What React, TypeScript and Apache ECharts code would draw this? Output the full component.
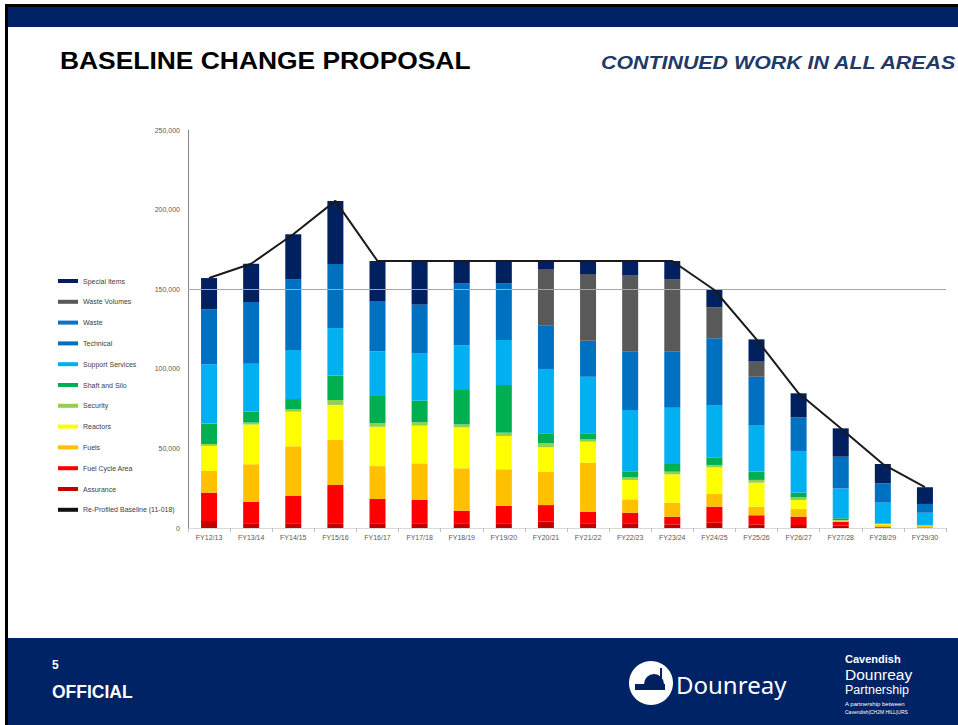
import React, { useEffect, useRef } from "react";
import * as echarts from "echarts";

const categories = ["FY12/13","FY13/14","FY14/15","FY15/16","FY16/17","FY17/18","FY18/19","FY19/20","FY20/21","FY21/22","FY22/23","FY23/24","FY24/25","FY25/26","FY26/27","FY27/28","FY28/29","FY29/30"];

const assurance = [4400,3000,3000,3000,3000,3000,3000,3000,4000,3000,3000,2300,3300,2300,1900,1500,300,200];
const fuelCycleArea = [17800,13500,17100,24000,15200,14600,7900,11000,10400,7200,6600,4800,10100,5700,5200,2500,300,200];
const fuels = [13600,23500,31200,28300,20700,23000,26600,22900,21000,30800,8400,8800,8000,5400,4800,300,1200,800];
const reactors = [15800,25000,21800,22000,24700,23700,25700,20900,15300,13200,12200,17800,16700,15100,5700,300,600,300];
const security = [1200,1200,1600,3100,2200,2100,1900,2100,2500,1500,1600,1700,1500,1700,1700,400,300,200];
const shaftAndSilo = [12800,6900,6300,15300,17100,13600,21600,29900,6300,3800,3600,4800,4800,5200,2900,1100,300,200];
const supportServices = [37200,30100,30800,29900,28100,29900,28200,28300,40400,35500,38700,35400,32900,28900,26200,18800,12900,7700];
const technical = [34600,38800,44400,40200,31600,30400,38800,35600,27200,22600,36600,35100,41900,30700,21100,19900,12200,5500];
const waste = [0,0,0,0,0,0,0,0,0,0,0,0,0,0,0,0,0,0];
const wasteVolumes = [0,0,0,0,0,0,0,0,35600,41900,47800,45500,19400,9500,0,0,0,0];
const specialItems = [19600,24000,28300,39600,25100,27600,14000,14000,5000,8200,9200,11500,11300,14000,15100,17800,12100,10500];
const reProfiledBaseline = [157000,166000,184500,205500,167700,167700,167700,167700,167700,167700,167700,167700,149500,118500,84600,62600,40200,25600];

const yTicks = [0, 50000, 100000, 150000, 200000, 250000];

const NAVY = "#002060";

export default function App() {
  const ref = useRef<HTMLDivElement>(null);
  useEffect(() => {
    document.body.style.margin = "0";
    const chart = echarts.init(ref.current!, null, { renderer: "svg" });
    const stack = [
      { name: "Assurance", data: assurance, color: "#C00000" },
      { name: "Fuel Cycle Area", data: fuelCycleArea, color: "#FF0000" },
      { name: "Fuels", data: fuels, color: "#FFC000" },
      { name: "Reactors", data: reactors, color: "#FFFF00" },
      { name: "Security", data: security, color: "#92D050" },
      { name: "Shaft and Silo", data: shaftAndSilo, color: "#00B050" },
      { name: "Support Services", data: supportServices, color: "#00B0F0" },
      { name: "Technical", data: technical, color: "#0070C0" },
      { name: "Waste", data: waste, color: "#0B72C4" },
      { name: "Waste Volumes", data: wasteVolumes, color: "#595959" },
      { name: "Special Items", data: specialItems, color: "#002060" },
    ];
    const legendOrder = [
      "Special Items","Waste Volumes","Waste","Technical","Support Services","Shaft and Silo","Security","Reactors","Fuels","Fuel Cycle Area","Assurance","Re-Profiled Baseline (11-018)",
    ];
    const series: any[] = stack.map((s) => ({
      name: s.name,
      type: "bar",
      stack: "total",
      barWidth: 16,
      data: s.data,
      itemStyle: { color: s.color },
    }));
    series.push({
      name: "Re-Profiled Baseline (11-018)",
      type: "line",
      data: reProfiledBaseline,
      symbol: "none",
      color: "#111111",
      lineStyle: { color: "#1a1a1a", width: 2 },
      z: 5,
      markLine: {
        silent: true,
        symbol: "none",
        label: { show: false },
        lineStyle: { color: "#a6a6a6", width: 1, type: "solid" },
        data: [{ yAxis: yTicks[3] }],
      },
    });

    const sans = "'Liberation Sans'";
    chart.setOption({
      animation: false,
      backgroundColor: "#ffffff",
      grid: { left: 188, right: 12, top: 130, bottom: 197 },
      legend: {
        orient: "vertical",
        left: 53,
        top: 271,
        icon: "rect",
        itemWidth: 20,
        itemHeight: 4,
        itemGap: 10.8,
        data: legendOrder,
        textStyle: { fontSize: 7, color: "#404040", lineHeight: 10, fontFamily: "Liberation Sans" },
      },
      xAxis: {
        type: "category",
        data: categories,
        axisLine: { show: true, lineStyle: { color: "#d9d9d9" } },
        axisTick: { show: true, length: 4, lineStyle: { color: "#bfbfbf" } },
        axisLabel: { fontSize: 7, color: "#595959", margin: 6, fontFamily: "Liberation Sans" },
      },
      yAxis: {
        type: "value",
        min: 0,
        max: 250000,
        interval: 50000,
        axisLine: { show: true, lineStyle: { color: "#868686" } },
        axisTick: { show: false },
        splitLine: { show: false },
        axisLabel: {
          fontSize: 7,
          color: "#595959",
          margin: 8,
          fontFamily: "Liberation Sans",
          formatter: (v: number) => v.toLocaleString("en-US"),
        },
      },
      series,
      graphic: [
        { type: "rect", shape: { x: 5, y: 4, width: 953, height: 3 }, style: { fill: "#000" }, silent: true },
        { type: "rect", shape: { x: 5, y: 4, width: 3, height: 721 }, style: { fill: "#000" }, silent: true },
        { type: "rect", shape: { x: 8, y: 7, width: 950, height: 20 }, style: { fill: "#002366" }, silent: true },
        { type: "rect", shape: { x: 8, y: 638, width: 950, height: 87 }, style: { fill: "#002366" }, silent: true },
        {
          type: "text", x: 60, y: 60, scaleX: 1.1,
          style: { text: "BASELINE CHANGE PROPOSAL", fill: "#000", font: "bold 24px " + sans, textVerticalAlign: "middle" },
        },
        {
          type: "text", x: 601, y: 62, scaleX: 1.125,
          style: { text: "CONTINUED WORK IN ALL AREAS", fill: "#1F3A68", font: "italic bold 19px " + sans, textVerticalAlign: "middle" },
        },
        { type: "text", x: 52, y: 665, style: { text: "5", fill: "#fff", font: "bold 12px " + sans, textVerticalAlign: "middle" } },
        { type: "text", x: 52, y: 692, style: { text: "OFFICIAL", fill: "#fff", font: "bold 17.5px " + sans, textVerticalAlign: "middle" } },
        { type: "circle", shape: { cx: 651, cy: 683, r: 22 }, style: { fill: "#fff" }, silent: true },
        { type: "sector", shape: { cx: 654, cy: 684, r: 10, r0: 0, startAngle: Math.PI, endAngle: 2 * Math.PI }, style: { fill: NAVY }, silent: true },
        { type: "rect", shape: { x: 635, y: 684, width: 30, height: 6 }, style: { fill: NAVY }, silent: true },
        { type: "rect", shape: { x: 660, y: 668, width: 2, height: 16 }, style: { fill: NAVY }, silent: true },
        { type: "text", x: 676, y: 684, style: { text: "Dounreay", fill: "#fff", font: "24px 'Noto Sans'", textVerticalAlign: "middle", lineHeight: 24 } },
        { type: "text", x: 845, y: 658.5, style: { text: "Cavendish", fill: "#fff", font: "bold 11px " + sans, textVerticalAlign: "middle", lineHeight: 11 } },
        { type: "text", x: 845, y: 674.5, style: { text: "Dounreay", fill: "#fff", font: "15.5px " + sans, textVerticalAlign: "middle", lineHeight: 15 } },
        { type: "text", x: 845, y: 690, style: { text: "Partnership", fill: "#fff", font: "12.5px " + sans, textVerticalAlign: "middle", lineHeight: 12 } },
        { type: "text", x: 845, y: 704, style: { text: "A partnership between", fill: "#fff", font: "6px " + sans, textVerticalAlign: "middle", lineHeight: 6 } },
        { type: "text", x: 845, y: 712, style: { text: "Cavendish|CH2M HILL|URS", fill: "#fff", font: "5px " + sans, textVerticalAlign: "middle", lineHeight: 5 } },
      ],
    });
    return () => chart.dispose();
  }, []);
  return <div ref={ref} style={{ width: 958, height: 725 }} />;
}
